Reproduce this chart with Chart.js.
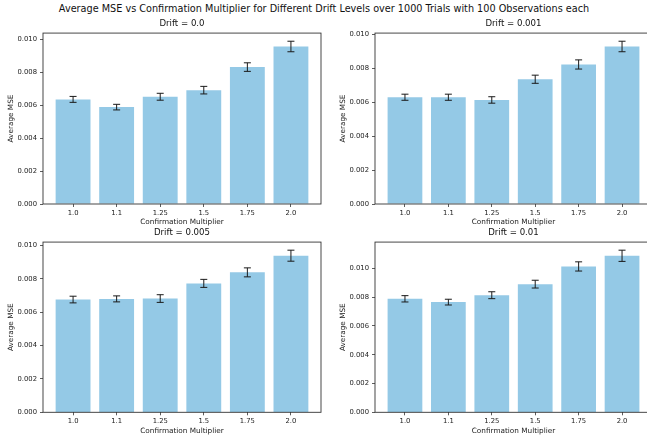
<!DOCTYPE html>
<html><head><meta charset="utf-8">
<script src="https://cdn.jsdelivr.net/npm/chart.js@4.4.1/dist/chart.umd.min.js"></script>
<style>
html,body{margin:0;padding:0;width:647px;height:440px;overflow:hidden;background:#fff;font-family:"DejaVu Sans";}
.t{position:absolute;white-space:nowrap;transform:translate(-50%,-50%);color:#111;line-height:1;}
canvas{position:absolute;}
</style></head><body>
<div class="t" id="main" style="left:324px;top:9px;font-size:9.7px">Average MSE vs Confirmation Multiplier for Different Drift Levels over 1000 Trials with 100 Observations each</div>
<script>
// ---- data ----
const categories = ['1.0', '1.1', '1.25', '1.5', '1.75', '2.0'];
const driftLevels = ['0.0', '0.001', '0.005', '0.01'];
const mseDrift0    = [0.00635, 0.00588, 0.00651, 0.00691, 0.00831, 0.00956];
const errDrift0    = [0.00018, 0.00017, 0.00021, 0.00023, 0.00026, 0.00032];
const mseDrift001  = [0.00629, 0.00629, 0.00613, 0.00735, 0.00822, 0.00928];
const errDrift001  = [0.00018, 0.00018, 0.00019, 0.00024, 0.00027, 0.00031];
const mseDrift005  = [0.00676, 0.00680, 0.00682, 0.00773, 0.00839, 0.00939];
const errDrift005  = [0.00020, 0.00018, 0.00023, 0.00024, 0.00027, 0.00033];
const mseDrift01   = [0.00789, 0.00766, 0.00814, 0.00891, 0.01014, 0.01088];
const errDrift01   = [0.00022, 0.00020, 0.00024, 0.00027, 0.00032, 0.00039];
const yTickStep = 0.002;
const xLabel = 'Confirmation Multiplier';
const yLabel = 'Average MSE';

// ---- layout ----
const FONT = 'DejaVu Sans';
const panels = [
  {mse: mseDrift0,   err: errDrift0,   drift: driftLevels[0], left: 0,   top: 26,  w: 330, h: 204, yW: 43, xH: 26,   padTop: 4.7, padRight: 9, yTP: 6.6, xTP: 3.6, tx: 182,   ty: 23.3},
  {mse: mseDrift001, err: errDrift001, drift: driftLevels[1], left: 330, top: 26,  w: 330, h: 204, yW: 45, xH: 26,   padTop: 4.7, padRight: 8, yTP: 8.3, xTP: 3.6, tx: 513.5, ty: 23.3},
  {mse: mseDrift005, err: errDrift005, drift: driftLevels[2], left: 0,   top: 235, w: 330, h: 203, yW: 43, xH: 25.7, padTop: 4,   padRight: 9, yTP: 6.6, xTP: 2.9, tx: 182,   ty: 231.7},
  {mse: mseDrift01,  err: errDrift01,  drift: driftLevels[3], left: 330, top: 235, w: 330, h: 203, yW: 45, xH: 25.7, padTop: 4,   padRight: 8, yTP: 8.3, xTP: 2.9, tx: 513.5, ty: 231.7}
];

const errorBarPlugin = {
  id: 'errbars',
  afterDatasetsDraw(chart, args, opts) {
    const ctx = chart.ctx, xs = chart.scales.x, ys = chart.scales.y;
    ctx.save();
    ctx.strokeStyle = '#1a1a1a';
    ctx.lineWidth = 1;
    opts.values.forEach((v, i) => {
      const e = opts.errors[i];
      const x = xs.getPixelForValue(i);
      const y1 = ys.getPixelForValue(v + e), y2 = ys.getPixelForValue(v - e);
      ctx.beginPath();
      ctx.moveTo(x, y1); ctx.lineTo(x, y2);
      ctx.moveTo(x - 3.5, y1); ctx.lineTo(x + 3.5, y1);
      ctx.moveTo(x - 3.5, y2); ctx.lineTo(x + 3.5, y2);
      ctx.stroke();
    });
    ctx.restore();
  }
};
const spinePlugin = {
  id: 'spines',
  afterDraw(chart) {
    const {left, top, right, bottom} = chart.chartArea;
    const ctx = chart.ctx;
    ctx.save();
    ctx.strokeStyle = '#333';
    ctx.lineWidth = 0.9;
    ctx.strokeRect(left, top, right - left, bottom - top);
    ctx.restore();
  }
};

panels.forEach(p => {
  const c = document.createElement('canvas');
  c.width = p.w; c.height = p.h;
  c.style.left = p.left + 'px'; c.style.top = p.top + 'px';
  c.style.width = p.w + 'px'; c.style.height = p.h + 'px';
  document.body.appendChild(c);
  const t = document.createElement('div');
  t.className = 't';
  t.style.left = p.tx + 'px'; t.style.top = p.ty + 'px'; t.style.fontSize = '8.6px';
  t.textContent = 'Drift = ' + p.drift;
  document.body.appendChild(t);

  const topVal = Math.max(...p.mse.map((v, i) => v + p.err[i])) * 1.05;
  new Chart(c, {
    type: 'bar',
    data: {
      datasets: [{
        data: p.mse.map((v, i) => ({x: i, y: v})),
        backgroundColor: '#94c9e6',
        borderWidth: 0,
        categoryPercentage: 1,
        barPercentage: 0.8
      }]
    },
    options: {
      responsive: false,
      animation: false,
      devicePixelRatio: 1,
      layout: {padding: {left: 0, top: p.padTop, right: p.padRight, bottom: 0}},
      plugins: {legend: {display: false}, tooltip: {enabled: false},
        errbars: {values: p.mse, errors: p.err}},
      scales: {
        x: {
          type: 'linear', min: -0.69, max: 5.69, offset: false,
          afterBuildTicks: s => { s.ticks = categories.map((_, i) => ({value: i})); },
          afterFit: s => { s.height = p.xH; },
          ticks: {callback: v => categories[v], font: {family: FONT, size: 6.8}, color: '#222', padding: 2, maxRotation: 0, autoSkip: false},
          grid: {display: true, offset: false, drawOnChartArea: false, drawTicks: true, tickLength: 3, color: '#333', lineWidth: 0.8},
          border: {display: false},
          title: {display: true, text: xLabel, font: {family: FONT, size: 7.3}, color: '#222', padding: {top: 0, bottom: p.xTP}}
        },
        y: {
          type: 'linear', min: 0, max: topVal,
          afterFit: s => { s.width = p.yW; },
          ticks: {stepSize: yTickStep, includeBounds: false, callback: v => Number(v).toFixed(3), font: {family: FONT, size: 6.8}, color: '#222', padding: 3},
          grid: {display: true, drawOnChartArea: false, drawTicks: true, tickLength: 3, color: '#333', lineWidth: 0.8},
          border: {display: false},
          title: {display: true, text: yLabel, font: {family: FONT, size: 7.3}, color: '#222', padding: {top: p.yTP, bottom: 0}}
        }
      }
    },
    plugins: [errorBarPlugin, spinePlugin]
  });
});
</script>
</body></html>
